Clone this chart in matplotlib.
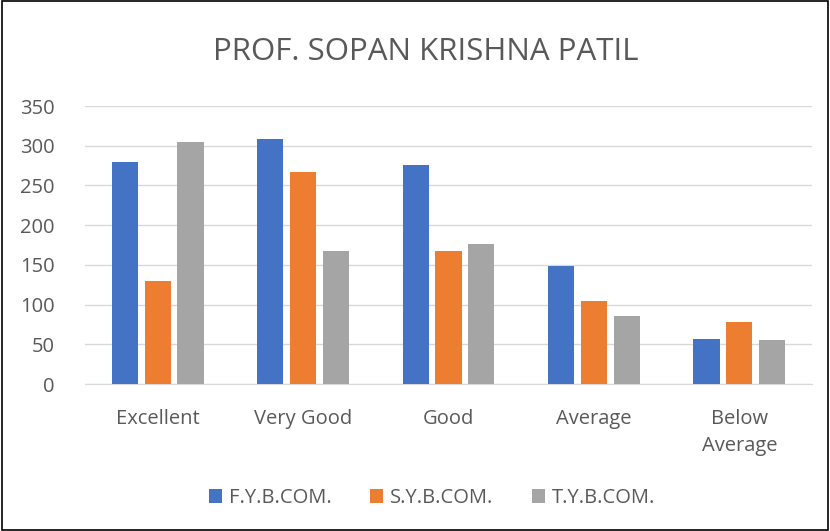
import matplotlib.pyplot as plt
import numpy as np

categories = ["Excellent", "Very Good", "Good", "Average", "Below\nAverage"]
series_names = ["F.Y.B.COM.", "S.Y.B.COM.", "T.Y.B.COM."]
fy = [280, 308, 276, 148, 57]
sy = [130, 267, 168, 105, 78]
ty = [305, 167, 176, 85, 55]
colors = ["#4472C4", "#ED7D31", "#A5A5A5"]

plt.rcParams['font.family'] = ['Open Sans', 'DejaVu Sans']
text_color = "#595959"

fig = plt.figure(figsize=(8.3, 5.31), dpi=100)
ax = fig.add_axes([85 / 830, 1 - 384 / 531, (812 - 85) / 830, (384 - 106) / 531])

x = np.arange(len(categories))
w = 0.18
step = 0.225
for i, (vals, name) in enumerate(zip([fy, sy, ty], series_names)):
    ax.bar(x + (i - 1) * step, vals, w, color=colors[i], label=name, zorder=3)

ax.set_xlim(-0.5, len(categories) - 0.5)
ax.set_ylim(0, 350)
ax.set_yticks(range(0, 351, 50))
ax.yaxis.grid(True, color="#D9D9D9", linewidth=1, zorder=0)
ax.set_xticks(x)
ax.set_xticklabels(categories, fontsize=14.5, color=text_color, linespacing=1.45)
ax.tick_params(axis='y', labelsize=14.5, colors=text_color, length=0, pad=22)
ax.tick_params(axis='x', length=0, pad=18)
for s in ["top", "right", "left"]:
    ax.spines[s].set_visible(False)
ax.spines["bottom"].set_color("#D9D9D9")

fig.text(426 / 830, 1 - 52 / 531, "PROF. SOPAN KRISHNA PATIL", ha="center", va="center",
         fontsize=22.5, color=text_color)

fig.legend(loc="center", bbox_to_anchor=(432 / 830, 1 - 498 / 531), ncol=3, frameon=False,
           fontsize=14.5, labelcolor=text_color, handlelength=0.65, handleheight=0.65,
           columnspacing=1.9, handletextpad=0.35)

border = plt.Rectangle((0.002, 0.002), 0.996, 0.996, transform=fig.transFigure,
                       fill=False, edgecolor="black", linewidth=1.2)
fig.patches.append(border)

fig.savefig("out.png", dpi=100)
